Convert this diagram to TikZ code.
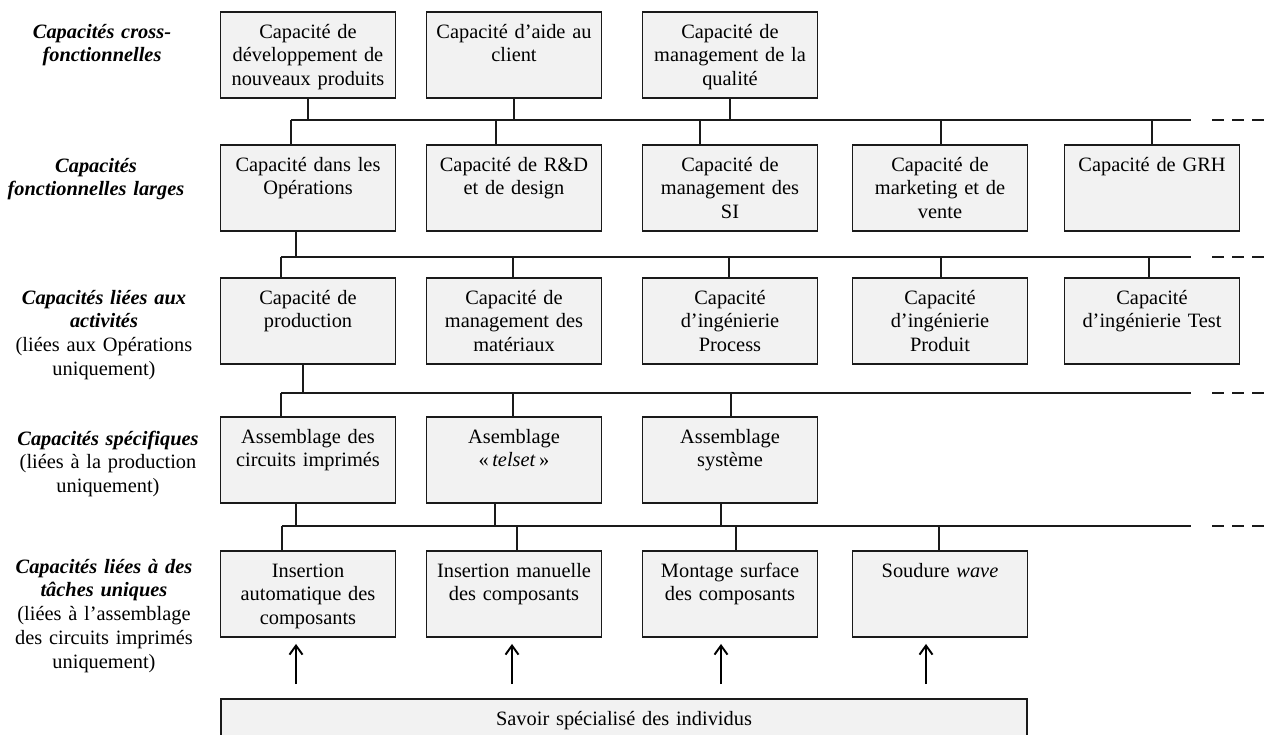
\documentclass[tikz,border=0pt]{standalone}
\usepackage{fontspec}
\setmainfont{Liberation Serif}
\usepackage{tikz}
\usetikzlibrary{arrows.meta}
\usetikzlibrary{calc}
\definecolor{boxfill}{HTML}{F2F2F2}
\definecolor{inkline}{HTML}{1A1A1A}

\begin{document}
\begin{tikzpicture}[
    x=0.02cm, y=-0.02cm,     % 1 单位 = 参考图 1 像素
    % 方框样式定义
    capbox/.style={
        draw=inkline,        % 深色边框
        fill=boxfill,        % 浅灰填充
        line width=1.1pt,    % 较粗的边框
        text width=3.3cm,    % 文字宽度
        inner xsep=0.1cm,    % 左右内边距
        inner ysep=0pt,      % 上下内边距为0
        text height=0.52cm,  % 文字靠上
        text depth=1.2cm,    % 固定框高
        align=center,        % 居中
        font=\fontsize{11.6pt}{13.6pt}\selectfont
    },
    % 左侧层级标签样式
    levellabel/.style={
        text width=4cm,      % 文字宽度
        inner sep=0pt,       % 内部填充为0
        anchor=base,         % 以第一行基线定位
        align=center,        % 居中
        font=\fontsize{11.6pt}{13.6pt}\selectfont
    },
    % 横向总线样式
    bus/.style={
        draw=inkline,        % 深色
        line width=1.1pt     % 粗线
    },
    % 总线末端虚线
    busdash/.style={
        bus,
        dash pattern=on 0.24cm off 0.16cm
    },
    % 细连接线
    link/.style={
        draw=inkline,        % 深色
        line width=0.6pt     % 细线
    },
    % 向上箭头样式
    uparrow/.style={
        draw=black,          % 黑色
        line width=1.1pt,    % 较粗
        -{Straight Barb[length=0.18cm, width=0.26cm]},
        shorten <=0.28cm,
        shorten >=0.12cm
    }
]
\useasboundingbox (0,0) rectangle (1264,734);

% 左侧层级标签
\node[levellabel] (lcross) at (102,38) {{\bfseries\itshape Capacités cross-\\fonctionnelles}};
\node[levellabel] (lfonc) at (96,172) {{\bfseries\itshape Capacités\\fonctionnelles larges}};
\node[levellabel] (lact) at (104,304) {{\bfseries\itshape Capacités liées aux\\activités}\\(liées aux Opérations\\uniquement)};
\node[levellabel] (lspec) at (108,445) {{\bfseries\itshape Capacités spécifiques}\\(liées à la production\\uniquement)};
\node[levellabel] (ltache) at (104,573) {{\bfseries\itshape Capacités liées à des\\tâches uniques}\\(liées à l’assemblage\\des circuits imprimés\\uniquement)};

% 第一层: 跨职能能力
\node[capbox] (ndp) at (308,55) {Capacité de\\développement de\\nouveaux produits};
\node[capbox] (aide) at (514,55) {Capacité d’aide au\\client};
\node[capbox] (qual) at (730,55) {Capacité de\\management de la\\qualité};

% 第二层: 职能能力
\node[capbox] (ops) at (308,188) {Capacité dans les\\Opérations};
\node[capbox] (rd) at (514,188) {Capacité de R\&D\\et de design};
\node[capbox] (si) at (730,188) {Capacité de\\management des\\SI};
\node[capbox] (mkt) at (940,188) {Capacité de\\marketing et de\\vente};
\node[capbox] (grh) at (1152,188) {Capacité de GRH};

% 第三层: 活动能力
\node[capbox] (prod) at (308,321) {Capacité de\\production};
\node[capbox] (mat) at (514,321) {Capacité de\\management des\\matériaux};
\node[capbox] (proc) at (730,321) {Capacité\\d’ingénierie\\Process};
\node[capbox] (prdt) at (940,321) {Capacité\\d’ingénierie\\Produit};
\node[capbox] (test) at (1152,321) {Capacité\\d’ingénierie Test};

% 第四层: 具体能力
\node[capbox] (pcb) at (308,460) {Assemblage des\\circuits imprimés};
\node[capbox] (telset) at (514,460) {Asemblage\\«\,\textit{telset}\,»};
\node[capbox] (sys) at (730,460) {Assemblage\\système};

% 第五层: 单一任务能力
\node[capbox] (auto) at (308,594) {Insertion\\automatique des\\composants};
\node[capbox] (manu) at (514,594) {Insertion manuelle\\des composants};
\node[capbox] (cms) at (730,594) {Montage surface\\des composants};
\node[capbox] (wave) at (940,594) {Soudure \textit{wave}};

% 底部: 个人知识
\node[capbox, text width=15.94cm] (savoir) at (624,742) {Savoir spécialisé des individus};

% 总线坐标
\coordinate (b1w) at (291,120); \coordinate (b1e) at (1191,120); \coordinate (b1x) at (1264,120);
\coordinate (b2w) at (281,257); \coordinate (b2e) at (1191,257); \coordinate (b2x) at (1264,257);
\coordinate (b3w) at (281,393); \coordinate (b3e) at (1191,393); \coordinate (b3x) at (1264,393);
\coordinate (b4w) at (282,526); \coordinate (b4e) at (1191,526); \coordinate (b4x) at (1264,526);

% 总线及虚线延伸
\foreach \b in {b1, b2, b3, b4} {
    \draw[bus] (\b w) -- (\b e);
    \draw[busdash] ([xshift=0.42cm]\b e) -- (\b x);
}

% 上层方框 -> 总线
\foreach \n/\dx in {ndp/0, aide/0, qual/0}
    \draw[link] ([xshift=\dx*0.02cm]\n.south) -- ([xshift=\dx*0.02cm]\n.south |- b1w);
\draw[link] ([xshift=-12*0.02cm]ops.south) -- ([xshift=-12*0.02cm]ops.south |- b2w);
\draw[link] ([xshift=-5*0.02cm]prod.south) -- ([xshift=-5*0.02cm]prod.south |- b3w);
\foreach \n/\dx in {pcb/-12, telset/-19, sys/-9}
    \draw[link] ([xshift=\dx*0.02cm]\n.south) -- ([xshift=\dx*0.02cm]\n.south |- b4w);

% 总线 -> 下层方框
\foreach \n/\dx in {ops/-17, rd/-18, si/-30, mkt/1, grh/0}
    \draw[link] ([xshift=\dx*0.02cm]\n.north) -- ([xshift=\dx*0.02cm]\n.north |- b1w);
\foreach \n/\dx in {prod/-27, mat/-1, proc/-1, prdt/1, test/-3}
    \draw[link] ([xshift=\dx*0.02cm]\n.north) -- ([xshift=\dx*0.02cm]\n.north |- b2w);
\foreach \n/\dx in {pcb/-27, telset/-1, sys/1}
    \draw[link] ([xshift=\dx*0.02cm]\n.north) -- ([xshift=\dx*0.02cm]\n.north |- b3w);
\foreach \n/\dx in {auto/-26, manu/3, cms/6, wave/-1}
    \draw[link] ([xshift=\dx*0.02cm]\n.north) -- ([xshift=\dx*0.02cm]\n.north |- b4w);

% 知识 -> 任务 (箭头)
\foreach \n/\dx in {auto/-12, manu/-2, cms/-9, wave/-14}
    \draw[uparrow] ([xshift=\dx*0.02cm]\n.south |- savoir.north) -- ([xshift=\dx*0.02cm]\n.south);

\end{tikzpicture}
\end{document}
